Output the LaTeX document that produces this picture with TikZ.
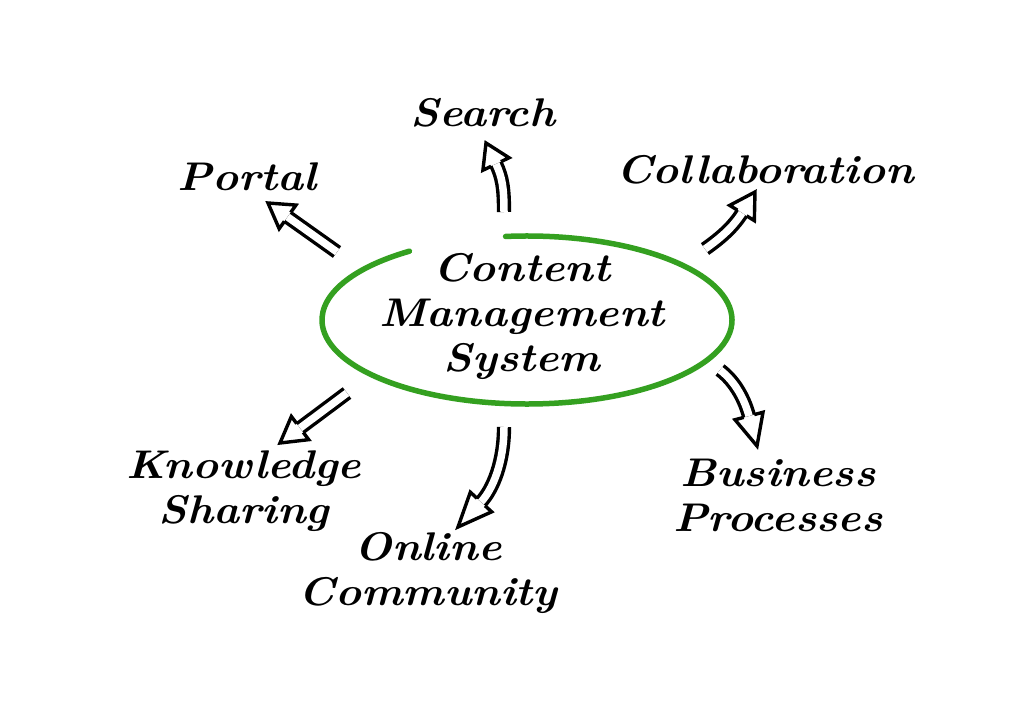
\documentclass[tikz,border=0pt]{standalone}
\usetikzlibrary{calc}
\definecolor{cmsgreen}{RGB}{52,160,32}
\tikzset{
  lbl/.style={font=\fontsize{40}{45}\selectfont\bfseries\itshape, align=center, inner sep=0pt, transform shape, xscale=1.1},
  shaft/.style={draw=black, line width=3.4pt, double=white, double distance=7.5pt},
  headline/.style={draw=black, line width=3.4pt, line join=miter},
  ring/.style={draw=cmsgreen, line width=5.5pt, line cap=round},
}
\newcommand\hollowhead[2]{%
  \draw[headline] ($(#1)!5.45pt!90:(#2)$) -- ($(#1)!14.5pt!90:(#2)$) -- (#2) -- ($(#1)!14.5pt!-90:(#2)$) -- ($(#1)!5.45pt!-90:(#2)$);}
\begin{document}
\begin{tikzpicture}[x=1pt,y=-1pt]
\fill[white] (0,0) rectangle (1023,706);
\useasboundingbox (0,0) rectangle (1023,706);

% labels
\node[lbl] (cms) at (522,316) {Content\\Management\\System};
\node[lbl] (search) at (483,113) {Search};
\node[lbl] (portal) at (247,177) {Portal};
\node[lbl] (collab) at (765,170) {Collaboration};
\node[lbl] (know) at (244,491) {Knowledge\\Sharing};
\node[lbl] (online) at (428,573) {Online\\Community};
\node[lbl] (biz) at (778,495) {Business\\Processes};

% green hand-drawn ring
\draw[ring] (527,320) ++(-96:205 and 84) arc[start angle=-96, end angle=235, x radius=205, y radius=84];

% arrow end points
\coordinate (T1) at (337,252); \coordinate (B1) at (268,203);
\coordinate (C1) at ($(B1)!24pt!(T1)$);
\coordinate (T2) at (504,212); \coordinate (C2) at (496,164); \coordinate (B2) at (486,143);
\coordinate (T3) at (705,249); \coordinate (C3) at (742,213); \coordinate (B3) at (755,192);
\coordinate (T4) at (720,370); \coordinate (C4) at (749,416); \coordinate (B4) at (757,446);
\coordinate (T5) at (504,427); \coordinate (C5) at (481,502); \coordinate (B5) at (458,527);
\coordinate (T6) at (347,393); \coordinate (B6) at (280,443);
\coordinate (C6) at ($(B6)!25pt!(T6)$);

% arrows
\draw[shaft] (T1) -- (C1); \hollowhead{C1}{B1}
\draw[shaft] (T2) .. controls +(0,-25) and +(6,13) .. (C2); \hollowhead{C2}{B2}
\draw[shaft] (T3) .. controls +(20,-14) and +(-7,11) .. (C3); \hollowhead{C3}{B3}
\draw[shaft] (T4) .. controls +(16,12) and +(-4,-15) .. (C4); \hollowhead{C4}{B4}
\draw[shaft] (T5) .. controls +(0,35) and +(12,-13) .. (C5); \hollowhead{C5}{B5}
\draw[shaft] (T6) -- (C6); \hollowhead{C6}{B6}
\end{tikzpicture}
\end{document}
